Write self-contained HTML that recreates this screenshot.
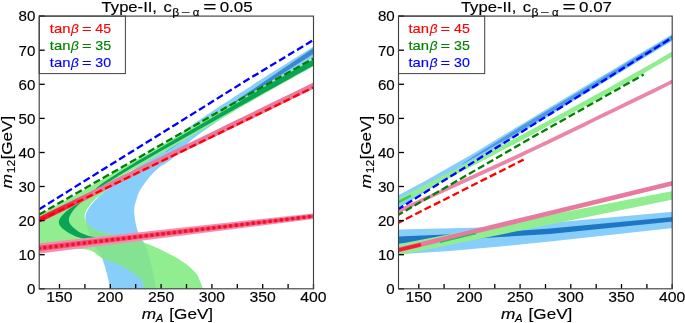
<!DOCTYPE html>
<html><head><meta charset="utf-8"><title>plot</title>
<style>html,body{margin:0;padding:0;background:#fff;}svg{display:block;will-change:transform;}text{font-family:"Liberation Sans",sans-serif;fill:#000;stroke:#000;stroke-width:0.15px;}.i{font-family:"Liberation Sans",sans-serif;font-style:italic;}</style></head><body>
<svg width="685" height="323" viewBox="0 0 685 323">
<rect x="0" y="0" width="685" height="323" fill="#ffffff"/>
<defs>
<clipPath id="cl"><rect x="39.2" y="16.1" width="274.3" height="272.7"/></clipPath>
<clipPath id="cr"><rect x="398.5" y="16.1" width="273.7" height="272.7"/></clipPath>
</defs>
<g clip-path="url(#cl)">
<path d="M320.0 42.4 C318.9 43.1 324.8 39.4 313.5 46.6 C302.2 53.8 266.4 76.2 252.0 85.4 C237.6 94.6 235.5 96.1 227.2 101.5 C218.9 106.9 210.3 112.6 202.4 118.0 C194.5 123.4 188.7 127.5 180.0 134.0 C171.3 140.5 160.0 149.3 150.0 157.0 C140.0 164.7 127.7 174.1 120.0 180.0 C112.3 185.9 108.0 189.2 104.0 192.5 C100.0 195.8 98.2 197.2 96.0 199.5 C93.8 201.8 92.0 204.0 90.5 206.0 C89.0 208.0 87.8 209.8 87.0 211.5 C86.2 213.2 85.6 214.4 85.5 216.5 C85.4 218.6 85.9 221.2 86.5 224.0 C87.1 226.8 87.4 228.9 89.0 233.0 C90.6 237.1 94.1 244.4 96.3 248.6 C98.5 252.8 100.3 254.0 102.0 258.0 C103.7 262.0 105.4 268.5 106.6 272.8 C107.8 277.1 108.7 281.2 109.3 284.0 C109.9 286.8 109.9 288.6 110.0 289.5 L155.9 289.5 C155.5 287.1 154.5 279.9 153.5 275.0 C152.5 270.1 151.4 265.0 150.0 260.0 C148.6 255.0 146.7 249.0 145.0 245.0 C143.3 241.0 141.2 239.3 139.7 236.0 C138.2 232.7 136.9 229.3 136.0 225.0 C135.1 220.7 134.1 214.2 134.2 210.0 C134.2 205.8 135.3 203.3 136.3 200.0 C137.3 196.7 137.8 194.0 140.0 190.2 C142.2 186.4 146.2 180.9 149.3 177.2 C152.4 173.5 155.5 170.5 158.6 167.9 C161.7 165.3 165.1 164.0 168.0 161.8 C170.9 159.7 173.3 157.5 176.0 155.0 C178.7 152.5 181.3 149.6 184.0 147.0 C186.7 144.4 189.3 141.8 192.0 139.5 C194.7 137.2 197.0 135.7 200.0 133.5 C203.0 131.3 205.0 129.9 210.0 126.5 C215.0 123.1 221.7 118.6 230.0 113.0 C238.3 107.4 246.1 102.3 260.0 93.0 C273.9 83.7 303.5 64.0 313.5 57.3 C323.5 50.6 318.9 53.7 320.0 53.0 Z" fill="#87cefa"/>
<polygon points="166.2,152.3 186.4,138.0 185.6,137.0 165.8,151.7" fill="#3c87d2" fill-opacity="0.5"/>
<polygon points="228.6,108.2 321.4,48.7 318.6,44.5 227.4,106.6" fill="#3c87d2"/>
<path d="M320.0 54.3 C310.0 59.9 280.0 76.6 260.0 88.1 C240.0 99.5 220.0 111.4 200.0 123.0 C180.0 134.7 161.7 145.3 140.0 157.8 C118.3 170.3 86.8 188.4 70.0 198.1 C53.2 207.7 45.7 211.8 39.0 215.8 C32.3 219.8 31.5 216.6 30.0 222.0 C28.5 227.4 28.5 243.8 30.0 248.0 C31.5 252.2 31.8 247.4 39.0 247.5 C46.2 247.6 64.5 248.3 73.0 248.8 C81.5 249.3 85.2 248.8 90.0 250.3 C94.8 251.8 97.3 255.7 102.0 258.0 C106.7 260.3 113.0 261.7 118.0 264.0 C123.0 266.3 128.1 269.3 132.0 272.0 C135.9 274.7 139.6 277.1 141.7 280.0 C143.8 282.9 144.0 287.9 144.5 289.5 L203.0 289.5 C202.5 288.1 201.2 283.8 200.0 281.0 C198.8 278.2 197.9 275.6 195.6 272.8 C193.3 270.0 189.7 266.8 186.0 264.0 C182.3 261.2 178.5 258.8 173.3 256.0 C168.1 253.2 160.7 249.5 155.0 247.0 C149.3 244.5 144.5 242.8 139.0 241.0 C133.5 239.2 126.8 237.7 122.0 236.5 C117.2 235.3 113.2 234.7 110.0 234.1 C106.8 233.5 106.0 233.7 103.0 232.7 C100.0 231.7 94.5 229.5 91.8 227.9 C89.1 226.3 88.2 224.9 87.0 223.0 C85.8 221.1 84.8 218.4 84.6 216.5 C84.4 214.6 85.1 213.1 85.9 211.3 C86.7 209.5 87.9 207.6 89.4 205.6 C90.9 203.6 92.6 201.4 95.0 199.2 C97.4 197.0 99.8 196.1 104.0 192.5 C108.2 188.9 112.3 182.9 120.0 177.5 C127.7 172.1 140.8 165.2 150.0 159.9 C159.2 154.5 166.7 150.2 175.0 145.5 C183.3 140.7 193.0 135.2 200.0 131.1 C207.0 127.1 207.0 127.1 217.0 121.3 C227.0 115.5 243.9 105.4 260.0 96.3 C276.1 87.1 303.5 71.9 313.5 66.3 C323.5 60.7 318.9 63.3 320.0 62.7 Z" fill="#90ee90"/>
<clipPath id="cg"><path d="M320.0 54.3 C310.0 59.9 280.0 76.6 260.0 88.1 C240.0 99.5 220.0 111.4 200.0 123.0 C180.0 134.7 161.7 145.3 140.0 157.8 C118.3 170.3 86.8 188.4 70.0 198.1 C53.2 207.7 45.7 211.8 39.0 215.8 C32.3 219.8 31.5 216.6 30.0 222.0 C28.5 227.4 28.5 243.8 30.0 248.0 C31.5 252.2 31.8 247.4 39.0 247.5 C46.2 247.6 64.5 248.3 73.0 248.8 C81.5 249.3 85.2 248.8 90.0 250.3 C94.8 251.8 97.3 255.7 102.0 258.0 C106.7 260.3 113.0 261.7 118.0 264.0 C123.0 266.3 128.1 269.3 132.0 272.0 C135.9 274.7 139.6 277.1 141.7 280.0 C143.8 282.9 144.0 287.9 144.5 289.5 L203.0 289.5 C202.5 288.1 201.2 283.8 200.0 281.0 C198.8 278.2 197.9 275.6 195.6 272.8 C193.3 270.0 189.7 266.8 186.0 264.0 C182.3 261.2 178.5 258.8 173.3 256.0 C168.1 253.2 160.7 249.5 155.0 247.0 C149.3 244.5 144.5 242.8 139.0 241.0 C133.5 239.2 126.8 237.7 122.0 236.5 C117.2 235.3 113.2 234.7 110.0 234.1 C106.8 233.5 106.0 233.7 103.0 232.7 C100.0 231.7 94.5 229.5 91.8 227.9 C89.1 226.3 88.2 224.9 87.0 223.0 C85.8 221.1 84.8 218.4 84.6 216.5 C84.4 214.6 85.1 213.1 85.9 211.3 C86.7 209.5 87.9 207.6 89.4 205.6 C90.9 203.6 92.6 201.4 95.0 199.2 C97.4 197.0 99.8 196.1 104.0 192.5 C108.2 188.9 112.3 182.9 120.0 177.5 C127.7 172.1 140.8 165.2 150.0 159.9 C159.2 154.5 166.7 150.2 175.0 145.5 C183.3 140.7 193.0 135.2 200.0 131.1 C207.0 127.1 207.0 127.1 217.0 121.3 C227.0 115.5 243.9 105.4 260.0 96.3 C276.1 87.1 303.5 71.9 313.5 66.3 C323.5 60.7 318.9 63.3 320.0 62.7 Z"/></clipPath>
<clipPath id="clow"><rect x="30" y="197" width="200" height="100"/></clipPath>
<g clip-path="url(#clow)"><path d="M320.0 42.4 C318.9 43.1 324.8 39.4 313.5 46.6 C302.2 53.8 266.4 76.2 252.0 85.4 C237.6 94.6 235.5 96.1 227.2 101.5 C218.9 106.9 210.3 112.6 202.4 118.0 C194.5 123.4 188.7 127.5 180.0 134.0 C171.3 140.5 160.0 149.3 150.0 157.0 C140.0 164.7 127.7 174.1 120.0 180.0 C112.3 185.9 108.0 189.2 104.0 192.5 C100.0 195.8 98.2 197.2 96.0 199.5 C93.8 201.8 92.0 204.0 90.5 206.0 C89.0 208.0 87.8 209.8 87.0 211.5 C86.2 213.2 85.6 214.4 85.5 216.5 C85.4 218.6 85.9 221.2 86.5 224.0 C87.1 226.8 87.4 228.9 89.0 233.0 C90.6 237.1 94.1 244.4 96.3 248.6 C98.5 252.8 100.3 254.0 102.0 258.0 C103.7 262.0 105.4 268.5 106.6 272.8 C107.8 277.1 108.7 281.2 109.3 284.0 C109.9 286.8 109.9 288.6 110.0 289.5 L155.9 289.5 C155.5 287.1 154.5 279.9 153.5 275.0 C152.5 270.1 151.4 265.0 150.0 260.0 C148.6 255.0 146.7 249.0 145.0 245.0 C143.3 241.0 141.2 239.3 139.7 236.0 C138.2 232.7 136.9 229.3 136.0 225.0 C135.1 220.7 134.1 214.2 134.2 210.0 C134.2 205.8 135.3 203.3 136.3 200.0 C137.3 196.7 137.8 194.0 140.0 190.2 C142.2 186.4 146.2 180.9 149.3 177.2 C152.4 173.5 155.5 170.5 158.6 167.9 C161.7 165.3 165.1 164.0 168.0 161.8 C170.9 159.7 173.3 157.5 176.0 155.0 C178.7 152.5 181.3 149.6 184.0 147.0 C186.7 144.4 189.3 141.8 192.0 139.5 C194.7 137.2 197.0 135.7 200.0 133.5 C203.0 131.3 205.0 129.9 210.0 126.5 C215.0 123.1 221.7 118.6 230.0 113.0 C238.3 107.4 246.1 102.3 260.0 93.0 C273.9 83.7 303.5 64.0 313.5 57.3 C323.5 50.6 318.9 53.7 320.0 53.0 Z" fill="#84e392" clip-path="url(#cg)"/></g>
<path d="M320.0 55.7 C318.9 56.3 323.5 53.7 313.5 59.3 C303.5 64.9 273.9 81.5 260.0 89.5 C246.1 97.4 240.0 101.4 230.0 107.3 C220.0 113.2 210.0 119.0 200.0 124.8 C190.0 130.7 181.3 135.7 170.0 142.3 C158.7 148.9 141.2 158.9 132.0 164.4 C122.8 169.8 120.2 171.6 115.0 174.9 C109.8 178.2 105.2 181.2 101.0 184.3 C96.8 187.5 93.5 191.0 90.0 193.8 C86.5 196.6 83.9 198.5 80.0 201.4 C76.1 204.3 70.2 207.8 66.7 211.1 C63.2 214.3 59.7 218.0 59.0 220.9 C58.3 223.8 60.0 226.2 62.5 228.6 C65.0 231.0 70.0 233.8 73.7 235.5 C77.4 237.2 80.4 238.1 84.8 239.0 C89.2 239.9 97.5 240.7 100.0 241.0 L100.0 238.5 C99.3 238.3 98.8 238.3 96.0 237.6 C93.2 236.9 87.2 235.8 83.4 234.1 C79.6 232.4 75.4 229.6 73.0 227.2 C70.6 224.8 68.7 222.4 68.8 219.5 C68.9 216.6 71.3 212.8 73.7 209.7 C76.1 206.6 80.4 203.2 83.4 200.7 C86.5 198.2 89.1 196.7 92.0 194.5 C94.9 192.3 97.2 190.1 101.0 187.3 C104.8 184.6 109.8 181.4 115.0 178.1 C120.2 174.8 122.8 173.1 132.0 167.8 C141.2 162.4 158.7 152.6 170.0 146.1 C181.3 139.7 190.0 134.7 200.0 129.0 C210.0 123.4 220.0 117.7 230.0 112.1 C240.0 106.4 246.1 103.0 260.0 95.3 C273.9 87.5 303.5 71.0 313.5 65.4 C323.5 59.8 318.9 62.4 320.0 61.8 Z" fill="#0aa455"/>
<polygon points="30.0,221.0 50.0,211.3 70.0,201.5 85.0,194.2 100.0,186.7 115.0,179.2 130.0,171.7 170.0,152.2 215.0,130.4 230.0,123.1 250.0,113.4 265.0,106.1 290.0,93.9 320.0,79.3 320.0,85.7 290.0,100.3 265.0,112.5 250.0,119.8 230.0,129.5 215.0,136.8 170.0,158.6 130.0,178.1 115.0,185.6 100.0,193.1 85.0,200.6 70.0,207.9 50.0,217.7 30.0,227.4" fill="#e8799f"/>
<linearGradient id="rg" gradientUnits="userSpaceOnUse" x1="39" y1="0" x2="95" y2="0"><stop offset="0" stop-color="#f5102c" stop-opacity="0.95"/><stop offset="0.45" stop-color="#f5102c" stop-opacity="0.8"/><stop offset="1" stop-color="#f5102c" stop-opacity="0"/></linearGradient>
<polygon points="30.0,221.5 50.0,211.8 70.0,202.0 85.0,194.7 100.0,187.2 100.0,192.7 85.0,200.2 70.0,207.5 50.0,217.3 30.0,227.0" fill="url(#rg)"/>
<polygon points="39.8,253.4 313.8,219.0 313.2,213.4 38.6,243.2" fill="#ef90ae"/>
<polygon points="39.5,251.1 313.7,217.8 313.3,214.6 38.9,245.5" fill="#f0507a"/>
<line x1="39.2" y1="248.3" x2="313.5" y2="216.2" stroke="#f90f26" stroke-width="3.8" stroke-linecap="round" stroke-dasharray="0.01 5.66"/>
<polyline points="39.2,209.2 250.0,78.2 313.5,40.0" fill="none" stroke="#0000ff" stroke-width="2.30" stroke-dasharray="7.2 3.25" stroke-dashoffset="0.00"/>
<polyline points="39.2,214.5 250.0,93.8 313.5,58.5" fill="none" stroke="#008000" stroke-width="2.30" stroke-dasharray="7.2 3.25" stroke-dashoffset="0.00"/>
<polyline points="39.2,220.6 250.0,118.2 313.5,87.3" fill="none" stroke="#ff0000" stroke-width="2.30" stroke-dasharray="7.2 3.25" stroke-dashoffset="0.00"/>
</g>
<g clip-path="url(#cr)">
<polygon points="397.5,229.6 463.0,228.0 510.0,226.4 673.2,211.8 673.2,228.0 550.0,241.4 500.0,246.6 450.0,251.0 397.5,254.2" fill="#87cefa"/>
<polygon points="397.5,236.5 500.0,232.2 550.0,228.6 673.2,217.0 673.2,221.6 550.0,234.0 500.0,237.0 397.5,243.8" fill="#1f77c4"/>
<polygon points="397.5,244.4 466.4,231.0 535.4,217.7 604.3,204.3 673.2,190.9 673.2,199.5 604.3,213.5 535.4,227.5 466.4,241.6 397.5,255.6" fill="#90ee90"/>
<polygon points="397.5,247.7 466.4,230.9 535.4,214.2 604.3,197.4 673.2,180.7 673.2,185.5 604.3,202.2 535.4,219.0 466.4,235.8 397.5,252.5" fill="#e8799f"/>
<line x1="440.0" y1="242.3" x2="476.0" y2="233.5" stroke="#35b565" stroke-width="1.30"/>
<line x1="397.5" y1="250.3" x2="419.5" y2="245.0" stroke="#fb1a34" stroke-width="3.60" stroke-linecap="round"/>
<polygon points="397.5,195.8 407.3,190.4 417.2,185.2 427.0,179.9 436.9,174.3 446.7,168.7 456.6,163.1 466.4,157.5 476.3,151.8 486.1,145.8 496.0,139.8 505.8,133.8 515.7,127.8 525.5,121.9 535.4,116.0 545.2,110.1 555.0,104.2 564.9,98.3 574.7,92.4 584.6,86.5 594.4,80.6 604.3,74.8 614.1,68.9 624.0,63.0 633.8,57.1 643.7,51.2 653.5,45.4 663.4,39.5 673.2,33.6 673.2,40.3 663.4,46.3 653.5,52.3 643.7,58.3 633.8,64.2 624.0,70.2 614.1,76.2 604.3,82.2 594.4,88.2 584.6,94.2 574.7,100.2 564.9,106.2 555.0,112.2 545.2,118.2 535.4,124.2 525.5,130.2 515.7,136.2 505.8,142.2 496.0,148.3 486.1,154.3 476.3,160.4 466.4,166.4 456.6,172.5 446.7,178.6 436.9,184.6 427.0,190.7 417.2,196.7 407.3,202.8 397.5,208.8" fill="#87cefa"/>
<polygon points="462.0,164.0 469.5,159.1 477.1,154.1 484.6,149.3 492.2,144.5 499.7,139.8 507.3,135.0 514.8,130.3 522.3,125.6 529.9,121.1 537.4,116.6 545.0,112.0 552.5,107.5 560.1,103.0 567.6,98.5 575.1,93.9 582.7,89.4 590.2,84.9 597.8,80.4 605.3,75.8 612.9,71.2 620.4,66.7 627.9,62.1 635.5,57.6 643.0,53.0 650.6,48.5 658.1,43.9 665.7,39.4 673.2,34.8 673.2,39.2 665.7,43.8 658.1,48.3 650.6,52.9 643.0,57.4 635.5,62.0 627.9,66.5 620.4,71.1 612.9,75.6 605.3,80.2 597.8,84.7 590.2,89.3 582.7,93.8 575.1,98.3 567.6,102.8 560.1,107.3 552.5,111.8 545.0,116.4 537.4,120.9 529.9,125.4 522.3,129.9 514.8,134.3 507.3,138.7 499.7,143.0 492.2,147.3 484.6,151.7 477.1,156.0 469.5,160.2 462.0,164.4" fill="#4f97e3"/>
<polygon points="397.5,198.9 407.3,193.9 417.2,188.9 427.0,183.8 436.9,178.8 446.7,173.8 456.6,168.7 466.4,163.6 476.3,158.5 486.1,153.4 496.0,148.3 505.8,143.2 515.7,138.1 525.5,132.8 535.4,127.6 545.2,122.3 555.0,117.0 564.9,111.7 574.7,106.3 584.6,100.9 594.4,95.6 604.3,90.2 614.1,84.7 624.0,79.1 633.8,73.6 643.7,68.1 653.5,62.4 663.4,56.6 673.2,50.9 673.2,56.1 663.4,61.9 653.5,67.6 643.7,73.3 633.8,78.9 624.0,84.4 614.1,89.9 604.3,95.5 594.4,100.9 584.6,106.3 574.7,111.6 564.9,117.0 555.0,122.3 545.2,127.6 535.4,132.9 525.5,138.2 515.7,143.5 505.8,148.6 496.0,153.7 486.1,158.9 476.3,164.0 466.4,169.1 456.6,174.3 446.7,179.4 436.9,184.5 427.0,189.6 417.2,194.7 407.3,199.8 397.5,204.9" fill="#90ee90"/>
<line x1="397.5" y1="202.5" x2="411.0" y2="195.6" stroke="#45c46a" stroke-width="2.60"/>
<polygon points="397.5,209.5 407.3,205.0 417.2,200.5 427.0,195.9 436.9,191.4 446.7,186.8 456.6,182.3 466.4,177.8 476.3,173.3 486.1,168.7 496.0,164.2 505.8,159.7 515.7,155.2 525.5,150.6 535.4,145.9 545.2,141.2 555.0,136.5 564.9,131.7 574.7,127.0 584.6,122.2 594.4,117.4 604.3,112.6 614.1,107.9 624.0,103.1 633.8,98.3 643.7,93.5 653.5,88.7 663.4,83.9 673.2,79.0 673.2,83.2 663.4,88.1 653.5,92.9 643.7,97.7 633.8,102.5 624.0,107.3 614.1,112.1 604.3,116.8 594.4,121.6 584.6,126.4 574.7,131.2 564.9,135.9 555.0,140.7 545.2,145.4 535.4,150.1 525.5,154.8 515.7,159.4 505.8,163.9 496.0,168.4 486.1,172.9 476.3,177.5 466.4,182.0 456.6,186.5 446.7,191.0 436.9,195.6 427.0,200.1 417.2,204.7 407.3,209.2 397.5,213.7" fill="#ec86a8"/>
<polyline points="398.5,209.0 530.0,126.7 672.2,37.6" fill="none" stroke="#0000ff" stroke-width="2.30" stroke-dasharray="7.2 3.25" stroke-dashoffset="1.50"/>
<polyline points="398.5,214.8 530.0,138.6 643.7,74.6" fill="none" stroke="#008000" stroke-width="2.30" stroke-dasharray="7.2 3.25" stroke-dashoffset="2.20"/>
<polyline points="398.5,222.7 460.0,191.7 523.6,159.6" fill="none" stroke="#ff0000" stroke-width="2.30" stroke-dasharray="7.2 3.25" stroke-dashoffset="2.20"/>
</g>
<rect x="39.2" y="16.1" width="86.2" height="57.5" fill="#fff" stroke="#404040" stroke-width="1.0"/>
<line x1="59.5" y1="288.8" x2="59.5" y2="284.0" stroke="#000" stroke-width="1.3"/>
<line x1="84.9" y1="288.8" x2="84.9" y2="284.0" stroke="#000" stroke-width="1.3"/>
<line x1="110.3" y1="288.8" x2="110.3" y2="284.0" stroke="#000" stroke-width="1.3"/>
<line x1="135.7" y1="288.8" x2="135.7" y2="284.0" stroke="#000" stroke-width="1.3"/>
<line x1="161.1" y1="288.8" x2="161.1" y2="284.0" stroke="#000" stroke-width="1.3"/>
<line x1="186.5" y1="288.8" x2="186.5" y2="284.0" stroke="#000" stroke-width="1.3"/>
<line x1="211.9" y1="288.8" x2="211.9" y2="284.0" stroke="#000" stroke-width="1.3"/>
<line x1="237.3" y1="288.8" x2="237.3" y2="284.0" stroke="#000" stroke-width="1.3"/>
<line x1="262.7" y1="288.8" x2="262.7" y2="284.0" stroke="#000" stroke-width="1.3"/>
<line x1="288.1" y1="288.8" x2="288.1" y2="284.0" stroke="#000" stroke-width="1.3"/>
<line x1="313.5" y1="288.8" x2="313.5" y2="284.0" stroke="#000" stroke-width="1.3"/>
<line x1="39.2" y1="288.8" x2="44.7" y2="288.8" stroke="#000" stroke-width="1.3"/>
<line x1="39.2" y1="254.7" x2="44.7" y2="254.7" stroke="#000" stroke-width="1.3"/>
<line x1="39.2" y1="220.6" x2="44.7" y2="220.6" stroke="#000" stroke-width="1.3"/>
<line x1="39.2" y1="186.5" x2="44.7" y2="186.5" stroke="#000" stroke-width="1.3"/>
<line x1="39.2" y1="152.5" x2="44.7" y2="152.5" stroke="#000" stroke-width="1.3"/>
<line x1="39.2" y1="118.4" x2="44.7" y2="118.4" stroke="#000" stroke-width="1.3"/>
<line x1="39.2" y1="84.3" x2="44.7" y2="84.3" stroke="#000" stroke-width="1.3"/>
<line x1="39.2" y1="50.2" x2="44.7" y2="50.2" stroke="#000" stroke-width="1.3"/>
<line x1="39.2" y1="16.1" x2="44.7" y2="16.1" stroke="#000" stroke-width="1.3"/>
<rect x="39.2" y="16.1" width="274.3" height="272.7" fill="none" stroke="#404040" stroke-width="1.15"/>
<rect x="398.5" y="16.1" width="86.2" height="57.5" fill="#fff" stroke="#404040" stroke-width="1.0"/>
<line x1="418.8" y1="288.8" x2="418.8" y2="284.0" stroke="#000" stroke-width="1.3"/>
<line x1="444.1" y1="288.8" x2="444.1" y2="284.0" stroke="#000" stroke-width="1.3"/>
<line x1="469.5" y1="288.8" x2="469.5" y2="284.0" stroke="#000" stroke-width="1.3"/>
<line x1="494.8" y1="288.8" x2="494.8" y2="284.0" stroke="#000" stroke-width="1.3"/>
<line x1="520.1" y1="288.8" x2="520.1" y2="284.0" stroke="#000" stroke-width="1.3"/>
<line x1="545.5" y1="288.8" x2="545.5" y2="284.0" stroke="#000" stroke-width="1.3"/>
<line x1="570.8" y1="288.8" x2="570.8" y2="284.0" stroke="#000" stroke-width="1.3"/>
<line x1="596.2" y1="288.8" x2="596.2" y2="284.0" stroke="#000" stroke-width="1.3"/>
<line x1="621.5" y1="288.8" x2="621.5" y2="284.0" stroke="#000" stroke-width="1.3"/>
<line x1="646.9" y1="288.8" x2="646.9" y2="284.0" stroke="#000" stroke-width="1.3"/>
<line x1="672.2" y1="288.8" x2="672.2" y2="284.0" stroke="#000" stroke-width="1.3"/>
<line x1="398.5" y1="288.8" x2="404.0" y2="288.8" stroke="#000" stroke-width="1.3"/>
<line x1="398.5" y1="254.7" x2="404.0" y2="254.7" stroke="#000" stroke-width="1.3"/>
<line x1="398.5" y1="220.6" x2="404.0" y2="220.6" stroke="#000" stroke-width="1.3"/>
<line x1="398.5" y1="186.5" x2="404.0" y2="186.5" stroke="#000" stroke-width="1.3"/>
<line x1="398.5" y1="152.5" x2="404.0" y2="152.5" stroke="#000" stroke-width="1.3"/>
<line x1="398.5" y1="118.4" x2="404.0" y2="118.4" stroke="#000" stroke-width="1.3"/>
<line x1="398.5" y1="84.3" x2="404.0" y2="84.3" stroke="#000" stroke-width="1.3"/>
<line x1="398.5" y1="50.2" x2="404.0" y2="50.2" stroke="#000" stroke-width="1.3"/>
<line x1="398.5" y1="16.1" x2="404.0" y2="16.1" stroke="#000" stroke-width="1.3"/>
<rect x="398.5" y="16.1" width="273.7" height="272.7" fill="none" stroke="#404040" stroke-width="1.15"/>
<g>
<text x="46.3" y="302.4" font-size="14.60" textLength="26.3" lengthAdjust="spacingAndGlyphs">150</text>
<text x="97.1" y="302.4" font-size="14.60" textLength="26.3" lengthAdjust="spacingAndGlyphs">200</text>
<text x="147.9" y="302.4" font-size="14.60" textLength="26.3" lengthAdjust="spacingAndGlyphs">250</text>
<text x="198.7" y="302.4" font-size="14.60" textLength="26.3" lengthAdjust="spacingAndGlyphs">300</text>
<text x="249.5" y="302.4" font-size="14.60" textLength="26.3" lengthAdjust="spacingAndGlyphs">350</text>
<text x="300.3" y="302.4" font-size="14.60" textLength="26.3" lengthAdjust="spacingAndGlyphs">400</text>
<text x="27.0" y="294.1" font-size="14.60" textLength="8.4" lengthAdjust="spacingAndGlyphs">0</text>
<text x="18.6" y="260.0" font-size="14.60" textLength="16.8" lengthAdjust="spacingAndGlyphs">10</text>
<text x="18.6" y="225.9" font-size="14.60" textLength="16.8" lengthAdjust="spacingAndGlyphs">20</text>
<text x="18.6" y="191.8" font-size="14.60" textLength="16.8" lengthAdjust="spacingAndGlyphs">30</text>
<text x="18.6" y="157.8" font-size="14.60" textLength="16.8" lengthAdjust="spacingAndGlyphs">40</text>
<text x="18.6" y="123.7" font-size="14.60" textLength="16.8" lengthAdjust="spacingAndGlyphs">50</text>
<text x="18.6" y="89.6" font-size="14.60" textLength="16.8" lengthAdjust="spacingAndGlyphs">60</text>
<text x="18.6" y="55.5" font-size="14.60" textLength="16.8" lengthAdjust="spacingAndGlyphs">70</text>
<text x="18.6" y="21.4" font-size="14.60" textLength="16.8" lengthAdjust="spacingAndGlyphs">80</text>
<text x="405.6" y="302.4" font-size="14.60" textLength="26.3" lengthAdjust="spacingAndGlyphs">150</text>
<text x="456.3" y="302.4" font-size="14.60" textLength="26.3" lengthAdjust="spacingAndGlyphs">200</text>
<text x="506.9" y="302.4" font-size="14.60" textLength="26.3" lengthAdjust="spacingAndGlyphs">250</text>
<text x="557.6" y="302.4" font-size="14.60" textLength="26.3" lengthAdjust="spacingAndGlyphs">300</text>
<text x="608.3" y="302.4" font-size="14.60" textLength="26.3" lengthAdjust="spacingAndGlyphs">350</text>
<text x="659.0" y="302.4" font-size="14.60" textLength="26.3" lengthAdjust="spacingAndGlyphs">400</text>
<text x="386.3" y="294.1" font-size="14.60" textLength="8.4" lengthAdjust="spacingAndGlyphs">0</text>
<text x="377.9" y="260.0" font-size="14.60" textLength="16.8" lengthAdjust="spacingAndGlyphs">10</text>
<text x="377.9" y="225.9" font-size="14.60" textLength="16.8" lengthAdjust="spacingAndGlyphs">20</text>
<text x="377.9" y="191.8" font-size="14.60" textLength="16.8" lengthAdjust="spacingAndGlyphs">30</text>
<text x="377.9" y="157.8" font-size="14.60" textLength="16.8" lengthAdjust="spacingAndGlyphs">40</text>
<text x="377.9" y="123.7" font-size="14.60" textLength="16.8" lengthAdjust="spacingAndGlyphs">50</text>
<text x="377.9" y="89.6" font-size="14.60" textLength="16.8" lengthAdjust="spacingAndGlyphs">60</text>
<text x="377.9" y="55.5" font-size="14.60" textLength="16.8" lengthAdjust="spacingAndGlyphs">70</text>
<text x="377.9" y="21.4" font-size="14.60" textLength="16.8" lengthAdjust="spacingAndGlyphs">80</text>
<text x="49.8" y="33.2" font-size="12.80" style="fill:#ff0000;stroke:#ff0000;" textLength="20.6" lengthAdjust="spacingAndGlyphs">tan</text>
<text x="71.0" y="33.2" font-size="13.20" class="i" style="fill:#ff0000;stroke:#ff0000;stroke-width:0.1px;" textLength="7.8" lengthAdjust="spacingAndGlyphs">&#946;</text>
<text x="81.9" y="33.2" font-size="12.80" style="fill:#ff0000;stroke:#ff0000;" textLength="9.6" lengthAdjust="spacingAndGlyphs">=</text>
<text x="95.3" y="33.2" font-size="12.80" style="fill:#ff0000;stroke:#ff0000;" textLength="15.8" lengthAdjust="spacingAndGlyphs">45</text>
<text x="49.8" y="50.0" font-size="12.80" style="fill:#008000;stroke:#008000;" textLength="20.6" lengthAdjust="spacingAndGlyphs">tan</text>
<text x="71.0" y="50.0" font-size="13.20" class="i" style="fill:#008000;stroke:#008000;stroke-width:0.1px;" textLength="7.8" lengthAdjust="spacingAndGlyphs">&#946;</text>
<text x="81.9" y="50.0" font-size="12.80" style="fill:#008000;stroke:#008000;" textLength="9.6" lengthAdjust="spacingAndGlyphs">=</text>
<text x="95.3" y="50.0" font-size="12.80" style="fill:#008000;stroke:#008000;" textLength="15.8" lengthAdjust="spacingAndGlyphs">35</text>
<text x="49.8" y="66.8" font-size="12.80" style="fill:#0000ff;stroke:#0000ff;" textLength="20.6" lengthAdjust="spacingAndGlyphs">tan</text>
<text x="71.0" y="66.8" font-size="13.20" class="i" style="fill:#0000ff;stroke:#0000ff;stroke-width:0.1px;" textLength="7.8" lengthAdjust="spacingAndGlyphs">&#946;</text>
<text x="81.9" y="66.8" font-size="12.80" style="fill:#0000ff;stroke:#0000ff;" textLength="9.6" lengthAdjust="spacingAndGlyphs">=</text>
<text x="95.3" y="66.8" font-size="12.80" style="fill:#0000ff;stroke:#0000ff;" textLength="15.8" lengthAdjust="spacingAndGlyphs">30</text>
<text x="408.5" y="33.2" font-size="12.80" style="fill:#ff0000;stroke:#ff0000;" textLength="20.6" lengthAdjust="spacingAndGlyphs">tan</text>
<text x="429.7" y="33.2" font-size="13.20" class="i" style="fill:#ff0000;stroke:#ff0000;stroke-width:0.1px;" textLength="7.8" lengthAdjust="spacingAndGlyphs">&#946;</text>
<text x="440.6" y="33.2" font-size="12.80" style="fill:#ff0000;stroke:#ff0000;" textLength="9.6" lengthAdjust="spacingAndGlyphs">=</text>
<text x="454.0" y="33.2" font-size="12.80" style="fill:#ff0000;stroke:#ff0000;" textLength="15.8" lengthAdjust="spacingAndGlyphs">45</text>
<text x="408.5" y="50.0" font-size="12.80" style="fill:#008000;stroke:#008000;" textLength="20.6" lengthAdjust="spacingAndGlyphs">tan</text>
<text x="429.7" y="50.0" font-size="13.20" class="i" style="fill:#008000;stroke:#008000;stroke-width:0.1px;" textLength="7.8" lengthAdjust="spacingAndGlyphs">&#946;</text>
<text x="440.6" y="50.0" font-size="12.80" style="fill:#008000;stroke:#008000;" textLength="9.6" lengthAdjust="spacingAndGlyphs">=</text>
<text x="454.0" y="50.0" font-size="12.80" style="fill:#008000;stroke:#008000;" textLength="15.8" lengthAdjust="spacingAndGlyphs">35</text>
<text x="408.5" y="66.8" font-size="12.80" style="fill:#0000ff;stroke:#0000ff;" textLength="20.6" lengthAdjust="spacingAndGlyphs">tan</text>
<text x="429.7" y="66.8" font-size="13.20" class="i" style="fill:#0000ff;stroke:#0000ff;stroke-width:0.1px;" textLength="7.8" lengthAdjust="spacingAndGlyphs">&#946;</text>
<text x="440.6" y="66.8" font-size="12.80" style="fill:#0000ff;stroke:#0000ff;" textLength="9.6" lengthAdjust="spacingAndGlyphs">=</text>
<text x="454.0" y="66.8" font-size="12.80" style="fill:#0000ff;stroke:#0000ff;" textLength="15.8" lengthAdjust="spacingAndGlyphs">30</text>
<text x="101.6" y="11.8" font-size="15.00" textLength="55.4" lengthAdjust="spacingAndGlyphs">Type-II,</text>
<text x="163.5" y="11.8" font-size="15.00" textLength="8.3" lengthAdjust="spacingAndGlyphs">c</text>
<text x="172.2" y="15.6" font-size="10.00" textLength="7.0" lengthAdjust="spacingAndGlyphs">&#946;</text>
<text x="181.4" y="15.6" font-size="10.00" textLength="9.0" lengthAdjust="spacingAndGlyphs">&#8722;</text>
<text x="192.8" y="15.6" font-size="10.00" textLength="6.6" lengthAdjust="spacingAndGlyphs">&#945;</text>
<text x="203.3" y="11.8" font-size="15.00" textLength="13.2" lengthAdjust="spacingAndGlyphs">=</text>
<text x="219.7" y="11.8" font-size="15.00" textLength="33.0" lengthAdjust="spacingAndGlyphs">0.05</text>
<text x="460.9" y="11.8" font-size="15.00" textLength="55.4" lengthAdjust="spacingAndGlyphs">Type-II,</text>
<text x="522.8" y="11.8" font-size="15.00" textLength="8.3" lengthAdjust="spacingAndGlyphs">c</text>
<text x="531.5" y="15.6" font-size="10.00" textLength="7.0" lengthAdjust="spacingAndGlyphs">&#946;</text>
<text x="540.7" y="15.6" font-size="10.00" textLength="9.0" lengthAdjust="spacingAndGlyphs">&#8722;</text>
<text x="552.1" y="15.6" font-size="10.00" textLength="6.6" lengthAdjust="spacingAndGlyphs">&#945;</text>
<text x="562.6" y="11.8" font-size="15.00" textLength="13.2" lengthAdjust="spacingAndGlyphs">=</text>
<text x="579.0" y="11.8" font-size="15.00" textLength="33.0" lengthAdjust="spacingAndGlyphs">0.07</text>
<text x="141.7" y="319.1" font-size="15.00" class="i" textLength="14.4" lengthAdjust="spacingAndGlyphs">m</text>
<text x="155.7" y="322.3" font-size="10.40" class="i" textLength="7.6" lengthAdjust="spacingAndGlyphs">A</text>
<text x="169.3" y="319.1" font-size="15.00" textLength="43.8" lengthAdjust="spacingAndGlyphs">[GeV]</text>
<text x="501.0" y="319.1" font-size="15.00" class="i" textLength="14.4" lengthAdjust="spacingAndGlyphs">m</text>
<text x="515.0" y="322.3" font-size="10.40" class="i" textLength="7.6" lengthAdjust="spacingAndGlyphs">A</text>
<text x="528.6" y="319.1" font-size="15.00" textLength="43.8" lengthAdjust="spacingAndGlyphs">[GeV]</text>
<g transform="translate(11.5,188.5) rotate(-90)">
<text x="0.0" y="0.0" font-size="15.00" class="i" textLength="14.6" lengthAdjust="spacingAndGlyphs">m</text>
<text x="15.2" y="3.3" font-size="10.40" textLength="13.4" lengthAdjust="spacingAndGlyphs">12</text>
<text x="29.0" y="0.0" font-size="15.00" textLength="43.8" lengthAdjust="spacingAndGlyphs">[GeV]</text>
</g>
<g transform="translate(370.8,188.5) rotate(-90)">
<text x="0.0" y="0.0" font-size="15.00" class="i" textLength="14.6" lengthAdjust="spacingAndGlyphs">m</text>
<text x="15.2" y="3.3" font-size="10.40" textLength="13.4" lengthAdjust="spacingAndGlyphs">12</text>
<text x="29.0" y="0.0" font-size="15.00" textLength="43.8" lengthAdjust="spacingAndGlyphs">[GeV]</text>
</g>
</g>
</svg></body></html>
